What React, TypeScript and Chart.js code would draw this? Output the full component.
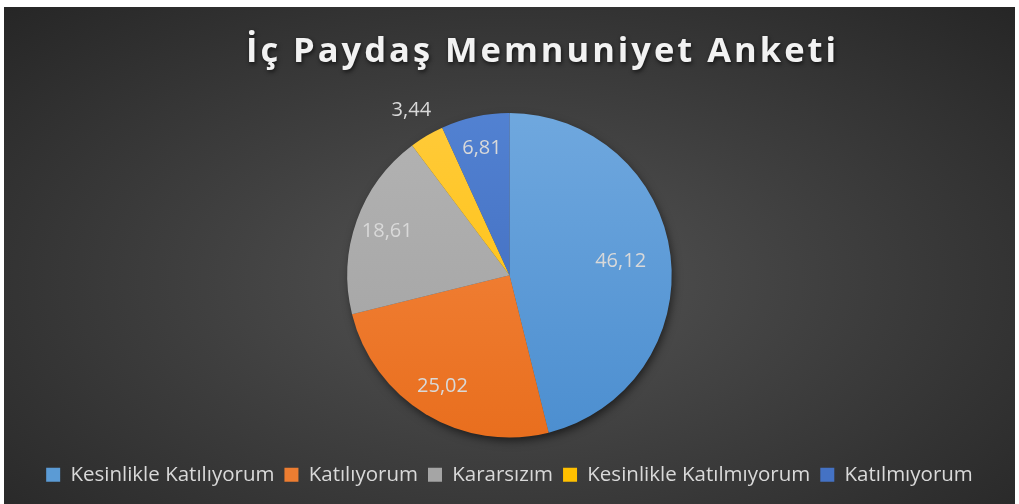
import React, { useEffect, useRef } from 'react';
import { Chart, registerables } from 'chart.js';

Chart.register(...registerables);

const titleText = 'İç Paydaş Memnuniyet Anketi';
const categories = [
  'Kesinlikle Katılıyorum',
  'Katılıyorum',
  'Kararsızım',
  'Kesinlikle Katılmıyorum',
  'Katılmıyorum',
];
const values = [46.12, 25.02, 18.61, 3.44, 6.81];

const topColors = ['#71a9df', '#f68b45', '#b4b4b4', '#ffcb3d', '#5383d3'];
const bottomColors = ['#4a8dcf', '#e86d1c', '#a0a0a0', '#ffbf00', '#3b65b8'];
const legendColors = ['#5b9bd5', '#ed7d31', '#a5a5a5', '#ffc000', '#4472c4'];

const fmt = (v: number) => v.toFixed(2).replace('.', ',');

const pieShadow = {
  id: 'pieShadow',
  beforeDatasetsDraw(chart: any) {
    const arc = chart.getDatasetMeta(0).data[0];
    if (!arc) return;
    const { x, y, outerRadius } = arc.getProps(['x', 'y', 'outerRadius'], true);
    const ctx = chart.ctx;
    ctx.save();
    ctx.shadowColor = 'rgba(0,0,0,0.6)';
    ctx.shadowBlur = 10;
    ctx.shadowOffsetX = 2;
    ctx.shadowOffsetY = 4;
    ctx.fillStyle = '#555';
    ctx.beginPath();
    ctx.arc(x, y, outerRadius - 1, 0, Math.PI * 2);
    ctx.fill();
    ctx.restore();
  },
};

const sliceLabels = {
  id: 'sliceLabels',
  afterDatasetsDraw(chart: any) {
    const meta = chart.getDatasetMeta(0);
    const ds = chart.data.datasets[0].data as number[];
    const total = ds.reduce((a, b) => a + b, 0);
    const ctx = chart.ctx;
    ctx.save();
    ctx.font = '20px "Open Sans"';
    ctx.fillStyle = '#d9d9d9';
    ctx.textAlign = 'center';
    ctx.textBaseline = 'middle';
    meta.data.forEach((arc: any, i: number) => {
      const { x, y, startAngle, endAngle, outerRadius } = arc.getProps(
        ['x', 'y', 'startAngle', 'endAngle', 'outerRadius'],
        true
      );
      const mid = (startAngle + endAngle) / 2;
      const share = ds[i] / total;
      const r =
        share < 0.05 ? outerRadius + 30 : outerRadius * (share > 0.4 ? 0.69 : 0.8);
      ctx.fillText(fmt(ds[i]), x + Math.cos(mid) * r, y + Math.sin(mid) * r);
    });
    ctx.restore();
  },
};

const titlePlugin = {
  id: 'customTitle',
  afterDraw(chart: any) {
    const ctx = chart.ctx;
    ctx.save();
    ctx.font = 'bold 34.5px "Open Sans"';
    (ctx as any).letterSpacing = '3px';
    ctx.fillStyle = '#f2f2f2';
    ctx.textAlign = 'center';
    ctx.textBaseline = 'alphabetic';
    ctx.shadowColor = 'rgba(0,0,0,0.65)';
    ctx.shadowBlur = 4;
    ctx.shadowOffsetX = 1;
    ctx.shadowOffsetY = 2;
    ctx.fillText(titleText, chart.width / 2 + 33, 55);
    ctx.restore();
  },
};

export default function App() {
  const ref = useRef<HTMLCanvasElement | null>(null);

  useEffect(() => {
    if (!ref.current) return;
    const chart = new Chart(ref.current, {
      type: 'pie',
      data: {
        labels: categories,
        datasets: [
          {
            data: values,
            borderWidth: 0,
            radius: '90.5%',
            backgroundColor: (c: any) => {
              const i = c.dataIndex;
              const meta = c.chart.getDatasetMeta(0);
              const arc = meta && meta.data && meta.data[i];
              const area = c.chart.chartArea;
              if (!area) return legendColors[i];
              const cy = (area.top + area.bottom) / 2;
              const rr = arc && arc.outerRadius ? arc.outerRadius : (area.bottom - area.top) / 2;
              const g = c.chart.ctx.createLinearGradient(0, cy - rr, 0, cy + rr);
              g.addColorStop(0, topColors[i]);
              g.addColorStop(1, bottomColors[i]);
              return g;
            },
          } as any,
        ],
      },
      options: {
        animation: false,
        responsive: true,
        maintainAspectRatio: false,
        layout: { padding: { top: 89, bottom: 9, left: 0, right: 0 } },
        plugins: {
          title: { display: false },
          tooltip: { enabled: false },
          legend: {
            position: 'bottom',
            labels: {
              color: '#d9d9d9',
              font: { family: '"Open Sans"', size: 20.5 },
              boxWidth: 14,
              boxHeight: 14,
              padding: 10,
              generateLabels: () =>
                categories.map((t, i) => ({
                  text: t,
                  fillStyle: legendColors[i],
                  strokeStyle: legendColors[i],
                  lineWidth: 0,
                  fontColor: '#d9d9d9',
                  hidden: false,
                  index: i,
                })),
            },
          },
        },
      },
      plugins: [pieShadow, sliceLabels, titlePlugin],
    });
    return () => chart.destroy();
  }, []);

  return (
    <div
      style={{
        position: 'absolute',
        left: 4,
        top: 7,
        width: 1011,
        height: 497,
        background:
          'radial-gradient(ellipse farthest-corner at 50% 55%, #545454 0%, #3f3f3f 45%, #262626 100%)',
      }}
    >
      <canvas ref={ref} />
    </div>
  );
}
